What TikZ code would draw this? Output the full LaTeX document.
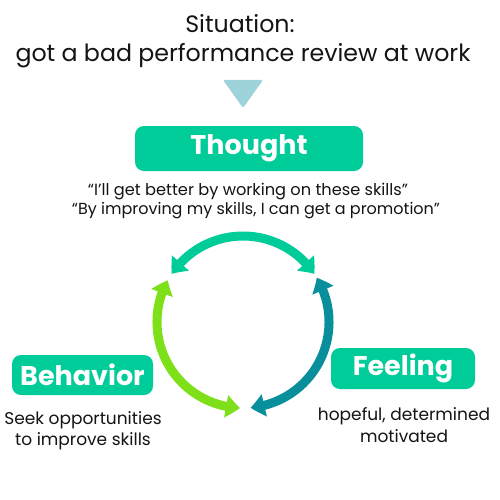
\documentclass[tikz,border=0pt]{standalone}
\usepackage{fontspec}
\setmainfont{Poppins}
\usetikzlibrary{arrows.meta,bending}
\definecolor{boxgreen}{RGB}{0,204,153}
\definecolor{limeg}{RGB}{125,224,25}
\definecolor{darkteal}{RGB}{8,143,155}
\definecolor{tricol}{RGB}{158,211,219}
\definecolor{txt}{RGB}{20,20,20}
\tikzset{
  labelbox/.style={fill=boxgreen, rounded corners=9pt, text=white, inner sep=0pt,
    font=\fontsize{27}{30}\selectfont\bfseries},
  caption/.style={anchor=base, text=txt, inner sep=0pt},
  cyclearrow/.style={line width=9pt, {Triangle[width=22pt,length=14pt,bend]}-{Triangle[width=22pt,length=14pt,bend]}}
}
\begin{document}
\begin{tikzpicture}[x=1pt,y=-1pt]
\useasboundingbox (0,0) rectangle (500,500);
\fill[white] (0,0) rectangle (500,500);
\node[caption, font=\fontsize{23.7}{27}\selectfont] (sit) at (240,33) {Situation:};
\node[caption, font=\fontsize{23.7}{27}\selectfont] (sit2) at (243,62) {got a bad performance review at work};
\fill[tricol, rounded corners=2pt] (223,80) -- (263,80) -- (243,108) -- cycle;
\node[labelbox, minimum width=228pt, minimum height=45pt] (thought) at (249,148.5) {Thought};
\node[caption, font=\fontsize{16.2}{19}\selectfont] (q1) at (248,195) {“I’ll get better by working on these skills”};
\node[caption, font=\fontsize{16}{19}\selectfont] (q2) at (256,214) {“By improving my skills, I can get a promotion”};
\coordinate (C) at (243,322);
\draw[cyclearrow, boxgreen] (C) ++(-146:86) arc[start angle=-146, end angle=-34, radius=86];
\draw[cyclearrow, limeg] (C) ++(-151:86) arc[start angle=-151, end angle=-268, radius=86];
\draw[cyclearrow, darkteal] (C) ++(-31:86) arc[start angle=-31, end angle=85, radius=86];
\node[labelbox, minimum width=141pt, minimum height=40pt] (behavior) at (82.5,375) {Behavior};
\node[labelbox, minimum width=144pt, minimum height=41pt] (feeling) at (403,368.5) {Feeling};
\node[caption, font=\fontsize{17}{20}\selectfont] (b1) at (83,424) {Seek opportunities};
\node[caption, font=\fontsize{17}{20}\selectfont] (b2) at (83,445) {to improve skills};
\node[caption, font=\fontsize{17}{20}\selectfont] (f1) at (404,420) {hopeful, determined};
\node[caption, font=\fontsize{17}{20}\selectfont] (f2) at (404,442) {motivated};
\end{tikzpicture}
\end{document}
